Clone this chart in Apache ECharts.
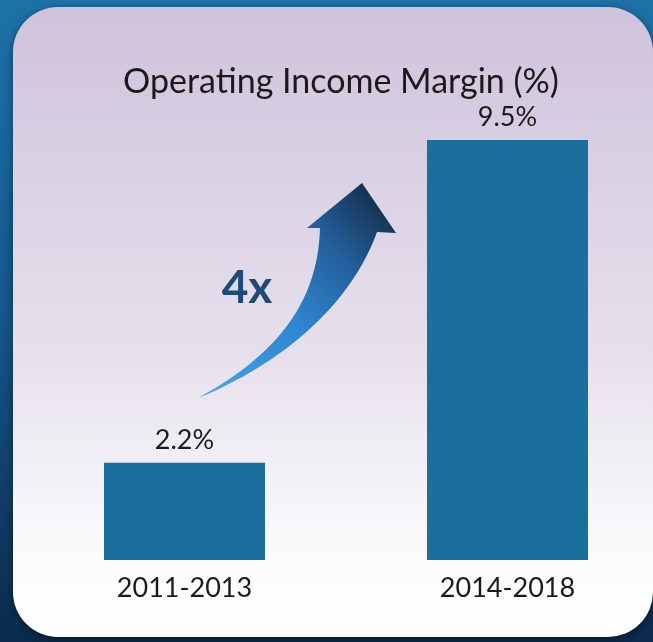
<!DOCTYPE html>
<html>
<head>
<meta charset="utf-8">
<title>Operating Income Margin</title>
<script src="https://cdn.jsdelivr.net/npm/echarts@6/dist/echarts.min.js"></script>
<style>
  html, body { margin: 0; padding: 0; background: #0c2d50; }
  #chart { width: 653px; height: 642px; }
</style>
</head>
<body>
<div id="chart"></div>
<script>
// Operating income margin by period
const periods = ['2011-2013', '2014-2018'];
const margins = [2.2, 9.5];
const growthLabel = '4x';
const chartTitle = 'Operating Income Margin (%)';

const FONT = 'Lato, "Open Sans", sans-serif';

// Sample a cubic Bezier into a list of points (for the arrow outline)
function bezierPoints(p0, p1, p2, p3, n) {
  const pts = [];
  for (let i = 0; i <= n; i++) {
    const t = i / n, u = 1 - t;
    pts.push([
      u * u * u * p0[0] + 3 * u * u * t * p1[0] + 3 * u * t * t * p2[0] + t * t * t * p3[0],
      u * u * u * p0[1] + 3 * u * u * t * p1[1] + 3 * u * t * t * p2[1] + t * t * t * p3[1]
    ]);
  }
  return pts;
}

// Curved growth arrow: outer edge, arrow head, inner edge back to the tail
const arrowOutline = []
  .concat(bezierPoints([198, 398], [272, 368], [348, 312], [377, 232], 30))
  .concat([[396, 233], [362, 183], [307, 228]])
  .concat(bezierPoints([320, 228], [318, 298], [282, 352], [198, 398], 30));

const chart = echarts.init(document.getElementById('chart'), null, { renderer: 'canvas' });

const option = {
  backgroundColor: 'transparent',
  title: {
    text: chartTitle,
    left: 336,
    top: 60,
    textAlign: 'center',
    textStyle: { fontFamily: FONT, fontSize: 34, fontWeight: 'normal', color: '#1a1a1a' }
  },
  // the right category band runs slightly past the canvas edge
  grid: { left: 23, top: 140, width: 646, bottom: 82, outerBoundsMode: 'none', containLabel: false },
  xAxis: {
    type: 'category',
    data: periods,
    axisLine: { show: false },
    axisTick: { show: false },
    axisLabel: { margin: 15, fontFamily: FONT, fontSize: 27, color: '#1a1a1a' }
  },
  yAxis: {
    type: 'value',
    min: 0,
    max: 9.5,
    show: false,
    splitLine: { show: false }
  },
  series: [{
    type: 'bar',
    data: margins,
    barWidth: 161,
    itemStyle: { color: '#1b6f9c' },
    label: {
      show: true,
      position: 'top',
      distance: 9,
      formatter: p => p.value.toFixed(1) + '%',
      fontFamily: FONT,
      fontSize: 27,
      color: '#1a1a1a'
    },
    z: 5
  }],
  graphic: [
    // dark blue backdrop
    {
      type: 'rect',
      z: -10,
      shape: { x: 0, y: 0, width: 653, height: 642 },
      style: {
        fill: new echarts.graphic.LinearGradient(0, 0, 0, 1, [
          { offset: 0, color: '#1c72a8' },
          { offset: 0.5, color: '#15558a' },
          { offset: 1, color: '#0b2a4c' }
        ])
      },
      silent: true
    },
    // rounded panel
    {
      type: 'rect',
      z: -9,
      shape: { x: 13, y: 7, width: 640, height: 630, r: 45 },
      style: {
        fill: new echarts.graphic.LinearGradient(0, 0, 0, 1, [
          { offset: 0, color: '#cfc3dc' },
          { offset: 0.55, color: '#e6e0ec' },
          { offset: 0.85, color: '#fafafc' },
          { offset: 1, color: '#ffffff' }
        ]),
        shadowBlur: 8,
        shadowColor: 'rgba(0,0,0,0.45)',
        shadowOffsetY: 2
      },
      silent: true
    },
    // growth arrow
    {
      type: 'polygon',
      z: 3,
      shape: { points: arrowOutline },
      style: {
        fill: new echarts.graphic.LinearGradient(0, 1, 1, 0.15, [
          { offset: 0, color: '#4aa6ea' },
          { offset: 0.45, color: '#2f86d0' },
          { offset: 0.75, color: '#235f9c' },
          { offset: 1, color: '#162f4c' }
        ])
      },
      silent: true
    },
    {
      type: 'text',
      z: 4,
      x: 247,
      y: 288,
      style: {
        text: growthLabel,
        fontFamily: FONT,
        fontSize: 46,
        fontWeight: 'bold',
        fill: '#1f4a78',
        align: 'center',
        verticalAlign: 'middle'
      },
      silent: true
    }
  ]
};

chart.setOption(option);
</script>
</body>
</html>
